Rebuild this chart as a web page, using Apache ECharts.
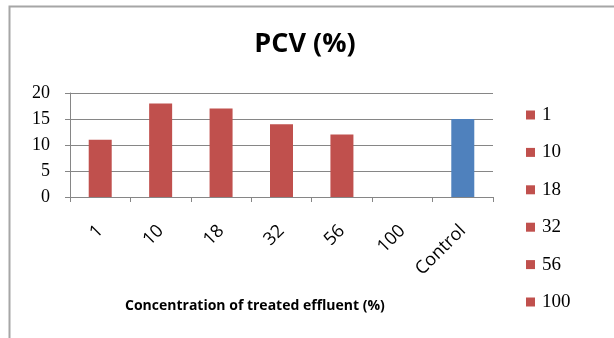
<!DOCTYPE html>
<html><head><meta charset="utf-8">
<script src="https://cdn.jsdelivr.net/npm/echarts@6/dist/echarts.min.js"></script>
<style>html,body{margin:0;padding:0;background:#fff}#c{width:614px;height:338px}</style>
</head><body><div id="c"></div>
<script>
const categories = ['1', '10', '18', '32', '56', '100', 'Control'];
const values = [11, 18, 17, 14, 12, 0, 15];
const legendNames = ['1', '10', '18', '32', '56', '100'];
const yTicks = [0, 5, 10, 15, 20];

const RED = '#C0504D', BLUE = '#4F81BD';
const series = categories.map((c, i) => ({
  name: c,
  type: 'bar',
  stack: 'all',
  barWidth: 23,
  itemStyle: { color: c === 'Control' ? BLUE : RED },
  data: categories.map((_, j) => (j === i ? values[i] : '-'))
}));

const chart = echarts.init(document.getElementById('c'), null, { renderer: 'canvas' });
chart.setOption({
  animation: false,
  backgroundColor: '#fff',
  title: {
    text: 'PCV (%)', left: 300, top: 26, textAlign: 'center',
    textStyle: { fontFamily: 'Open Sans', fontWeight: 'bold', fontSize: 27, color: '#000' }
  },
  grid: { left: 70, right: 121, top: 93, bottom: 141 },
  legend: {
    orient: 'vertical', left: 526, top: 105, padding: 0,
    data: legendNames, icon: 'rect', itemWidth: 9, itemHeight: 9, itemGap: 17.4,
    selectedMode: false,
    textStyle: { fontFamily: 'Liberation Serif', fontSize: 19, color: '#000', lineHeight: 20, padding: [0, 0, 0, 2] }
  },
  xAxis: {
    type: 'category', data: categories,
    axisLine: { lineStyle: { color: '#868686' } },
    axisTick: { show: true, length: 5, lineStyle: { color: '#868686' } },
    axisLabel: { rotate: 45, margin: 31, fontFamily: 'Open Sans', fontSize: 18, color: '#000' }
  },
  yAxis: {
    type: 'value', min: 0, max: 20, interval: 5,
    axisLine: { show: true, lineStyle: { color: '#868686' } },
    axisTick: { show: true, length: 5, lineStyle: { color: '#868686' } },
    splitLine: { lineStyle: { color: '#868686' } },
    axisLabel: { margin: 20, fontFamily: 'Liberation Serif', fontSize: 18, color: '#000',
      formatter: v => (yTicks.includes(v) ? String(v) : '') }
  },
  graphic: [
    { type: 'rect', shape: { x: 9.5, y: 6.5, width: 700, height: 400 },
      style: { fill: null, stroke: '#A6A6A6', lineWidth: 2 }, silent: true, z: -1 },
    { type: 'text', left: 125, top: 299,
      style: { text: 'Concentration of treated effluent (%)', fontFamily: 'Open Sans',
        fontWeight: 'bold', fontSize: 14, fill: '#000' } }
  ],
  series: series
});
</script></body></html>
